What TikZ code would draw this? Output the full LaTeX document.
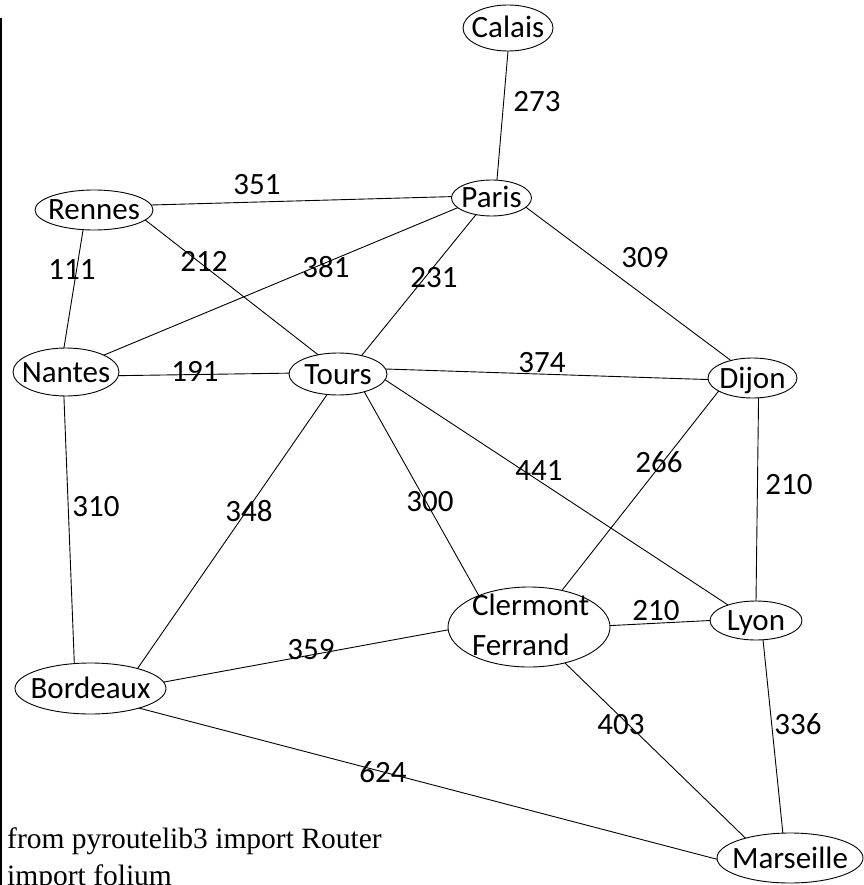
\documentclass[tikz,border=0pt]{standalone}
\usepackage{fontspec}
\setmainfont{Liberation Serif}
\newfontfamily\cityfont{Carlito}
\usetikzlibrary{shapes.geometric}
\newcommand\ctext[1]{\makebox[0pt]{\raisebox{-10pt}[0pt][0pt]{#1}}}
\tikzset{
  city/.style={draw, ellipse, line width=0.9pt, inner sep=0pt, outer sep=0pt,
    font=\cityfont\fontsize{31}{36}\selectfont},
  wt/.style={inner sep=0pt, text height=20pt, text depth=0pt,
    font=\cityfont\fontsize{31}{36}\selectfont},
  road/.style={line width=0.9pt, black},
}
\begin{document}
\begin{tikzpicture}[x=1pt, y=-1pt]
\useasboundingbox (0,0) rectangle (863,885);
\fill[white] (0,0) rectangle (863,885);
% left rule
\draw[line width=2pt] (1,18) -- (1,885);
% cities
\node[city, minimum width=90pt, minimum height=46pt] (calais) at (508,28) {\ctext{Calais}};
\node[city, minimum width=80pt, minimum height=36pt] (paris) at (491.5,198) {\ctext{Paris}};
\node[city, minimum width=118pt, minimum height=40pt] (rennes) at (94,210) {\ctext{Rennes}};
\node[city, minimum width=106pt, minimum height=48pt] (nantes) at (66,372) {\ctext{Nantes}};
\node[city, minimum width=98pt, minimum height=42pt] (tours) at (338,374) {\ctext{Tours}};
\node[city, minimum width=89pt, minimum height=40pt] (dijon) at (752.5,378) {\ctext{Dijon}};
\node[city, minimum width=162pt, minimum height=80pt] (clermont) at (529,627)
  {\makebox[0pt]{\hspace*{-57pt}\rlap{\raisebox{12pt}[0pt][0pt]{Clermont}}\rlap{\raisebox{-28pt}[0pt][0pt]{Ferrand}}\hspace*{57pt}}};
\node[city, minimum width=92pt, minimum height=39pt] (lyon) at (756,620.5) {\ctext{Lyon}};
\node[city, minimum width=151pt, minimum height=51pt] (bordeaux) at (90.5,688.5) {\ctext{Bordeaux}};
\node[city, minimum width=146pt, minimum height=50pt] (marseille) at (790,858) {\ctext{Marseille}};
% roads
\draw[road] (calais.-90) -- (paris.73);
\draw[road] (rennes.5) -- (paris.178.5);
\draw[road] (paris.-15) -- (dijon.141);
\draw[road] (nantes.24.7) -- (paris.196);
\draw[road] (paris.227.4) -- (tours.38);
\draw[road] (rennes.-11) -- (tours.136);
\draw[road] (rennes.241) -- (nantes.95);
\draw[road] (nantes.-4) -- (tours.179);
\draw[road] (tours.6) -- (dijon.182.5);
\draw[road] (dijon.201) -- (clermont.48);
\draw[road] (dijon.-73) -- (lyon.90);
\draw[road] (tours.-7) -- (lyon.151);
\draw[road] (tours.-34) -- (clermont.148);
\draw[road] (tours.-118) -- (bordeaux.23);
\draw[road] (nantes.-95) -- (bordeaux.123);
\draw[road] (bordeaux.5) -- (clermont.182);
\draw[road] (bordeaux.-22.7) -- (marseille.181.6);
\draw[road] (clermont.1.4) -- (lyon.180.6);
\draw[road] (clermont.-45.8) -- (marseille.156);
\draw[road] (lyon.-70) -- (marseille.106);
% weights
\node[wt] (w273) at (537,102) {273};
\node[wt] (w351) at (257,185) {351};
\node[wt] (w111) at (72,269) {111};
\node[wt] (w212) at (204,261) {212};
\node[wt] (w381) at (326,267) {381};
\node[wt] (w231) at (434,277) {231};
\node[wt] (w309) at (645,257) {309};
\node[wt] (w191) at (195,371) {191};
\node[wt] (w374) at (542,362) {374};
\node[wt] (w441) at (539,470) {441};
\node[wt] (w266) at (659,462) {266};
\node[wt] (w210a) at (789,484) {210};
\node[wt] (w310) at (96,506) {310};
\node[wt] (w348) at (249,511) {348};
\node[wt] (w300) at (430,501) {300};
\node[wt] (w210b) at (656,610) {210};
\node[wt] (w359) at (311,649) {359};
\node[wt] (w403) at (621,724) {403};
\node[wt] (w336) at (798,724) {336};
\node[wt] (w624) at (383,772) {624};
% code text
\node[anchor=north west, inner sep=0pt, align=left, font=\fontsize{29.5}{37}\selectfont] (code) at (7,828)
  {from pyroutelib3 import Router\\import folium};
\end{tikzpicture}
\end{document}
